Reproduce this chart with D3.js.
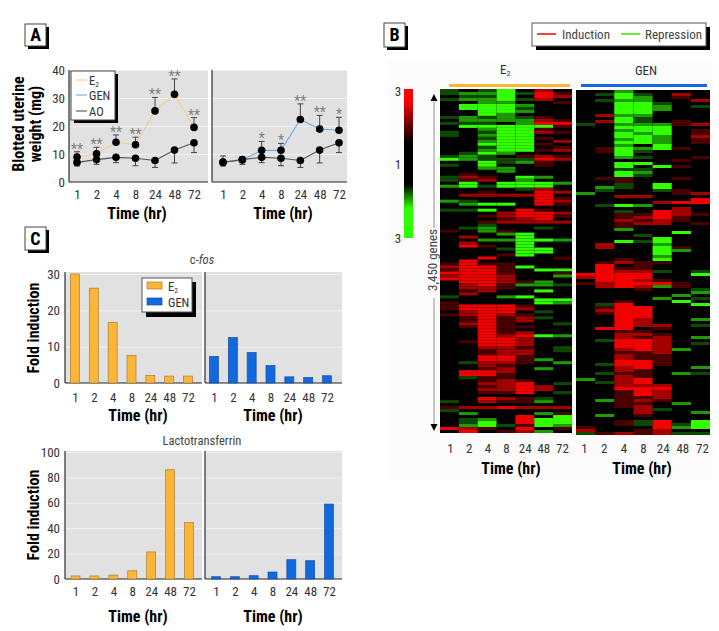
<!DOCTYPE html>
<html><head><meta charset="utf-8">
<script src="https://cdnjs.cloudflare.com/ajax/libs/d3/7.8.5/d3.min.js"></script>
<style>
html,body{margin:0;padding:0;background:#fff}
svg{display:block;fill:#222}
text{font-family:"Liberation Sans Narrow","Roboto Condensed","Liberation Sans",sans-serif}
</style></head><body>
<svg id="c" width="719" height="631"></svg>
<script>
const times = ["1","2","4","8","24","48","72"];
// Panel A: blotted uterine weight
const e2Weight = [8.9,10.1,14.2,13.3,25.4,31.3,19.5];
const e2Upper  = [10.8,12.4,16.8,16,30.2,36.8,23];
const genWeight= [7.1,7.9,11.3,11.3,22.3,18.9,18.5];
const genUpper = [9.3,8.4,14.5,13.8,27.9,23.8,23.1];
const aoWeight = [7,8,8.8,8.5,7.7,11.4,14];
const aoLower  = [5.7,6.3,6.9,5.8,5.2,6.8,10.5];
const e2Stars  = ["**","**","**","**","**","**","**"];
const genStars = ["","","*","*","**","**","*"];
// Panel C
const fosE2  = [30,26.1,16.7,7.6,2.1,1.9,1.9];
const fosGen = [7.3,12.5,8.4,4.8,1.7,1.5,2];
const ltfE2  = [2.4,2.4,3.1,6.5,21.3,86,44.4];
const ltfGen = [1.8,1.8,2.6,5.5,15.2,14.4,59];
// Panel B: one string per row, one letter per time point
// a,b,c = repression 3,2,1   . = none   x,y,z = induction 1,2,3
const e2Rows = [
"c.ca.y.","cbbaczx",".cca.zy","cbbacy.","..bb..x",".aaab..",".aaac..","..aab..","..ab...","cbcbcx.",
".bbbbyx","ccc.bzz",".aaaaax","..baax.","c.caayx","c.baa..","..caax.","..baa.y","..aaax.","..caa.x",
"..baaxy",".cab...","cbc.xyx","abccczy","..acbx.","c.a..x.","..bb...","...b...",".x.....","cyx.ab.",
"cxy.b..",".a.aaab","bacaaa.","....cy.","..x..zy",".yyyyz.",".....zx","bc...zy",".baa.zx",".......",
"cca.zx.","...yzzy","..xyzzx","...xyz.","..xyyyy","..c....",".cb..c.","x.bx...","...ba..",".y..a..",
"..bbaab",".y..a..",".zx.a..","...caa.","....aa.","...xa..","..z...x",".z.....","xzxx...","yzzxa..",
"xzzx.aa","zzzx..x","yzzy..b","zzzy...",".zzyxb.",".yzxbbc",".yyx...",".xy..a.",".y.....","c..ba..",
".....aa","x....ab","xzzzx..","xzzzy..",".yzz.c.","xyzyx..",".xzxyc.",".xzxy..",".yzx..c",".xzxx..",
"..zx...","..zxy..","..zyzab","..zzy..",".xzzy..","..zzy..","..yyx.c","..xyy.c","..xyy..","..zzx..",
"..zzxb.",".cyyx.b","..yx...","..xy.b.",".zzy...",".zzx...",".cxx...","..xyx..","..yyz.c","..xyzy.",
"..yyzy.","..xxz.c",".......","..zyxc.","c.yxxb.",".......","xyyzyyy","c......",".b...bx","....z.a",
".cb.zaa",".ca.zaa",".bacxab","zyx.z.x",".z.xyb."];
const genRows = [
"..b....",".cac.y.","..ab.x.",".cbb..y","..aac..","..aab.c","..aab..","..aa...",".ybb...","..ac...",
".yac.x.","c.bbbxy","..aaa..","..baa.x","..aba.x","..aab.y","..bab.x","..aab.x","..b.a..",".xabax.",
".xac...","..a....","..bc..x",".....x.","..aa...","..a.ax.","..cc...","..ab...","..ac...",".xx..x.",
"..x....","..c.a..",".bc.a..",".c..cx.","b....xy","..yy...","......z","....yzz",".cab...",".....y.",
"..c.zy.","..xxzyx","..xyzx.","..yxyx.","..xyy.x","..x....","..b....",".....a.","...c...","....a..",
"..aca..",".y..b..",".y..ax.","....ab.","....a..","....b..","..x.a..",".xyxx..",".z.x...",".zxx...",
".zyyc.c","zzzz..a","yzzz...",".zzyx..","xyzzzx.",".yzybx.","...x..c","......b",".....b.","....b.c",
"..x..a.",".cz...a",".xzz...",".yzz...",".xzz...","..zz...","..zy..b","..zy...","..zyy.c",".zz.x..",
"..xx...","..yyx..","..yxy.b",".czzy..","..zzy.c","..zzy..","..yzyb.","..xxy..","..yxx..","..yxx..",
"..zzx..",".czzx..","..yz..b","..yx...",".cxx.bc","..yx...","b.yz...",".cyz...","..yyy..","..zzz..",
"..xzy..","..xzy..","..xxy..",".bxyx..","..xx.b.","..xy...","...yc..","...y..b",".b.x...",".......",
"..xcz.a","..xczca","x...zba","y..xy..","cxyxycc"];
const letterValue = {a:-3,b:-2,c:-1,".":0,x:1,y:2,z:3};

const FONT_TICK = 13, FONT_TITLE = 16;
const svg = d3.select("#c");
const defs = svg.append("defs");
const grad = defs.append("linearGradient").attr("id","bar").attr("x1",0).attr("x2",0).attr("y1",0).attr("y2",1);
[[0,"#ff0000"],[.08,"#ff0000"],[.36,"#000"],[.64,"#000"],[.8,"#2cff00"],[1,"#2cff00"]]
  .forEach(s=>grad.append("stop").attr("offset",s[0]).attr("stop-color",s[1]));
defs.append("filter").attr("id","soft").attr("x","-1%").attr("y","-1%").attr("width","102%").attr("height","102%")
  .append("feGaussianBlur").attr("stdDeviation","0.55");

function subLabel(g,x,y,base,sub,size,anchor){
  const t=g.append("text").attr("x",x).attr("y",y).attr("font-size",size).attr("text-anchor",anchor||"start").attr("fill","#333");
  t.append("tspan").text(base);
  if(sub) t.append("tspan").text(sub).attr("font-size",size*.6).attr("dy",size*.18);
  return t;
}
function tag(x,y,w,h,s){
  svg.append("rect").attr("x",x+3).attr("y",y+3).attr("width",w).attr("height",h).attr("fill","#000");
  svg.append("rect").attr("x",x).attr("y",y).attr("width",w).attr("height",h).attr("fill","#fff").attr("stroke","#444");
  svg.append("text").attr("x",x+w/2).attr("y",y+h/2+6).attr("text-anchor","middle")
     .attr("font-size",18).attr("font-weight","bold").attr("fill","#000").text(s);
}
function timeAxis(scale,yPos,titleX,titleY){
  const g=svg.append("g").attr("transform",`translate(0,${yPos})`).call(d3.axisBottom(scale).tickSize(0).tickPadding(0));
  g.select(".domain").remove();
  g.selectAll("text").attr("font-size",FONT_TICK).attr("font-family",null).attr("dy",".35em").attr("y",0).attr("fill","#333");
  svg.append("text").attr("x",titleX).attr("y",titleY).attr("text-anchor","middle").attr("dy",".35em")
     .attr("font-size",FONT_TITLE).attr("font-weight","bold").attr("fill","#000").text("Time (hr)");
}
function frame(x0,x1,y0,y1,yScale,ticks,showLabels,labelX){
  svg.append("rect").attr("x",x0).attr("y",y0).attr("width",x1-x0).attr("height",y1-y0).attr("fill","#e1e1e1");
  const grid=svg.append("g").attr("transform",`translate(${x0},0)`)
    .call(d3.axisLeft(yScale).tickValues(ticks.filter(t=>t>0)).tickSize(-(x1-x0)).tickFormat(""));
  grid.select(".domain").remove();
  grid.selectAll("line").attr("stroke","#f1f1f1").attr("stroke-width",1);
  svg.append("line").attr("x1",x0).attr("x2",x0).attr("y1",y0).attr("y2",y1).attr("stroke","#555").attr("stroke-width",1.5);
  svg.append("line").attr("x1",x0).attr("x2",x1).attr("y1",y1).attr("y2",y1).attr("stroke","#222").attr("stroke-width",1.2);
  if(showLabels){
    const ax=svg.append("g").attr("transform",`translate(${labelX},0)`)
      .call(d3.axisLeft(yScale).tickValues(ticks).tickSize(0).tickPadding(0));
    ax.select(".domain").remove();
    ax.selectAll("text").attr("font-size",FONT_TICK).attr("font-family",null).attr("fill","#333");
  }
}
function yTitle(x,y,s){
  svg.append("text").attr("transform",`translate(${x},${y}) rotate(-90)`).attr("text-anchor","middle").attr("dy",".35em")
    .attr("font-size",FONT_TITLE).attr("font-weight","bold").attr("fill","#000").text(s);
}

/* ---------- Panel A ---------- */
tag(25,24,21,22,"A");
const yA=d3.scaleLinear().domain([0,40]).range([182,70]);
const xAL=d3.scalePoint().domain(times).range([77,194]);
const xAR=d3.scalePoint().domain(times).range([223,339]);
const ticksA=[0,10,20,30,40];
frame(69,208,70,182,yA,ticksA,true,65);
frame(212,347,70,182,yA,ticksA,false);
const rows=s=>times.map((t,i)=>({t,v:s[i]}));
function series(x,vals,color,limit,stars){
  const line=d3.line().x(d=>x(d.t)).y(d=>yA(d.v));
  svg.append("path").attr("d",line(rows(vals))).attr("fill","none").attr("stroke",color).attr("stroke-width",1.1);
  const g=svg.append("g");
  times.forEach((t,i)=>{
    const xx=x(t);
    g.append("line").attr("x1",xx).attr("x2",xx).attr("y1",yA(vals[i])).attr("y2",yA(limit[i])).attr("stroke","#444").attr("stroke-width",1);
    g.append("line").attr("x1",xx-3).attr("x2",xx+3).attr("y1",yA(limit[i])).attr("y2",yA(limit[i])).attr("stroke","#444").attr("stroke-width",1);
    if(stars&&stars[i]) g.append("text").attr("x",xx).attr("y",yA(limit[i])).attr("dy",2).attr("text-anchor","middle")
      .attr("font-size",14).attr("fill","#808080").text(stars[i]);
  });
  g.selectAll("circle").data(rows(vals)).join("circle")
    .attr("cx",d=>x(d.t)).attr("cy",d=>yA(d.v)).attr("r",3.8).attr("fill","#000");
}
series(xAL,e2Weight,"#f6cc8e",e2Upper,e2Stars);
series(xAL,aoWeight,"#555",aoLower);
series(xAR,genWeight,"#6cabe4",genUpper,genStars);
series(xAR,aoWeight,"#555",aoLower);
timeAxis(xAL,194,137,213);
timeAxis(xAR,194,283,213);
yTitle(18,124,"Blotted uterine");
yTitle(35,124,"weight (mg)");
svg.append("rect").attr("x",74).attr("y",74).attr("width",44).attr("height",49).attr("fill","#000");
svg.append("rect").attr("x",71).attr("y",71).attr("width",44).attr("height",49).attr("fill","#fff").attr("stroke","#444");
[["E","2","#f6cc8e",80],["GEN","","#6cabe4",95],["AO","","#555",111]].forEach(d=>{
  svg.append("line").attr("x1",76).attr("x2",87).attr("y1",d[3]).attr("y2",d[3]).attr("stroke",d[2]).attr("stroke-width",1.1);
  subLabel(svg,89,d[3]+4.5,d[0],d[1],12.5);
});

/* ---------- Panel C ---------- */
tag(25,227,21,23,"C");
function bars(x,y,vals,fill,stroke){
  svg.append("g").selectAll("rect").data(rows(vals)).join("rect")
    .attr("x",d=>x(d.t)-4.5).attr("width",9).attr("y",d=>y(d.v)).attr("height",d=>y(0)-y(d.v))
    .attr("fill",fill).attr("stroke",stroke).attr("stroke-width",.7);
}
const orange="#fdb537",orangeEdge="#a67f35",blue="#1069de",blueEdge="#1d4f98";
const yF=d3.scaleLinear().domain([0,30]).range([383,274]);
const xFL=d3.scalePoint().domain(times).range([75,188]);
const xFR=d3.scalePoint().domain(times).range([214,327]);
const ticksF=[0,10,20,30];
frame(65,202,272,383,yF,ticksF,true,60);
frame(205,342,272,383,yF,ticksF,false);
bars(xFL,yF,fosE2,orange,orangeEdge);
bars(xFR,yF,fosGen,blue,blueEdge);
timeAxis(xFL,397,138,415);
timeAxis(xFR,397,273,415);
yTitle(33,328,"Fold induction");
const fosT=svg.append("text").attr("x",202).attr("y",260).attr("dy",".35em").attr("text-anchor","middle").attr("font-size",12.5).attr("fill","#444");
fosT.append("tspan").text("c-");
fosT.append("tspan").attr("font-style","italic").text("fos");
svg.append("rect").attr("x",146).attr("y",282).attr("width",50).attr("height",35).attr("fill","#000");
svg.append("rect").attr("x",142).attr("y",278).attr("width",50).attr("height",34).attr("fill","#fff").attr("stroke","#555");
[["E","2",orange,orangeEdge,282],["GEN","",blue,blueEdge,298]].forEach(d=>{
  svg.append("rect").attr("x",147).attr("y",d[4]).attr("width",15).attr("height",7).attr("fill",d[2]).attr("stroke",d[3]).attr("stroke-width",.7);
  subLabel(svg,168,d[4]+8.5,d[0],d[1],12.5);
});

const yL=d3.scaleLinear().domain([0,100]).range([579,452]);
const xLL=d3.scalePoint().domain(times).range([75.5,189]);
const xLR=d3.scalePoint().domain(times).range([216,329]);
const ticksL=[0,20,40,60,80,100];
frame(65,202,451,579,yL,ticksL,true,60);
frame(205,342,451,579,yL,ticksL,false);
bars(xLL,yL,ltfE2,orange,orangeEdge);
bars(xLR,yL,ltfGen,blue,blueEdge);
timeAxis(xLL,591,138,616);
timeAxis(xLR,591,273,616);
yTitle(33,515,"Fold induction");
svg.append("text").attr("x",202).attr("y",441).attr("dy",".35em").attr("text-anchor","middle").attr("font-size",12.5).attr("fill","#444").text("Lactotransferrin");

/* ---------- Panel B ---------- */
svg.append("rect").attr("x",388).attr("y",60).attr("width",325).attr("height",420).attr("fill","#fbfbfb");
tag(384,23,21,24,"B");
svg.append("rect").attr("x",536).attr("y",27).attr("width",174).attr("height",23).attr("fill","#000");
svg.append("rect").attr("x",532).attr("y",23).attr("width",174).attr("height",23).attr("fill","#fff").attr("stroke","#555");
[["Induction","#f01010",537,562],["Repression","#3cf000",621,645]].forEach(d=>{
  svg.append("line").attr("x1",d[2]).attr("x2",d[2]+19).attr("y1",34).attr("y2",34).attr("stroke",d[1]).attr("stroke-width",1.6);
  svg.append("text").attr("x",d[3]).attr("y",34).attr("dy",".35em").attr("font-size",FONT_TICK).attr("fill","#444").text(d[0]);
});
const heatColor=d3.scaleLinear().domain([-3,-2,-1,0,1,2,3])
  .range(["#33ff00","#1f9c00","#0d4a00","#000","#4c0000","#a50000","#f20000"]);
const rowIdx=d3.range(e2Rows.length), colIdx=d3.range(7);
function heat(rowsData,x0,x1,y0,y1){
  const x=d3.scaleBand().domain(colIdx).range([x0,x1]);
  const y=d3.scaleBand().domain(rowIdx).range([y0,y1]);
  const g=svg.append("g").attr("filter","url(#soft)");
  g.append("rect").attr("x",x0).attr("y",y0).attr("width",x1-x0).attr("height",y1-y0).attr("fill","#000");
  rowsData.forEach((r,ri)=>colIdx.forEach(c=>{
    const v=letterValue[r[c]]||0;
    if(v!==0) g.append("rect").attr("x",x(c)).attr("y",y(ri)).attr("width",x.bandwidth()).attr("height",y.bandwidth()).attr("fill",heatColor(v));
  }));
}
heat(e2Rows,440,572,89,433);
heat(genRows,576,710,90,435);
svg.append("rect").attr("x",449).attr("y",84).attr("width",121).attr("height",3).attr("fill",orange);
svg.append("rect").attr("x",581).attr("y",84).attr("width",126).attr("height",3).attr("fill",blue);
subLabel(svg,500,74,"E","2",FONT_TICK);
svg.append("text").attr("x",646).attr("y",70).attr("dy",".35em").attr("text-anchor","middle").attr("font-size",FONT_TICK).attr("fill","#333").text("GEN");
svg.append("rect").attr("x",404).attr("y",89).attr("width",9).attr("height",149).attr("fill","url(#bar)");
[["3",91],["1",164],["3",238]].forEach(d=>svg.append("text").attr("x",398).attr("y",d[1]).attr("dy",".35em").attr("text-anchor","middle").attr("font-size",FONT_TICK).attr("fill","#333").text(d[0]));
svg.append("line").attr("x1",434).attr("x2",434).attr("y1",96).attr("y2",228).attr("stroke","#bbb").attr("stroke-width",1.6);
svg.append("line").attr("x1",434).attr("x2",434).attr("y1",298).attr("y2",424).attr("stroke","#bbb").attr("stroke-width",1.6);
svg.append("path").attr("d","M434 94l-3.5 7h7z").attr("fill","#000");
svg.append("path").attr("d","M434 431l-3.5-7h7z").attr("fill","#000");
svg.append("text").attr("transform","translate(432,260) rotate(-90)").attr("text-anchor","middle").attr("dy",".35em").attr("font-size",FONT_TICK).attr("fill","#444").text("3,450 genes");
const xHL=d3.scalePoint().domain(times).range([450,562]);
const xHR=d3.scalePoint().domain(times).range([584,702]);
timeAxis(xHL,448,511,468);
timeAxis(xHR,448,642,468);
</script>
</body></html>
